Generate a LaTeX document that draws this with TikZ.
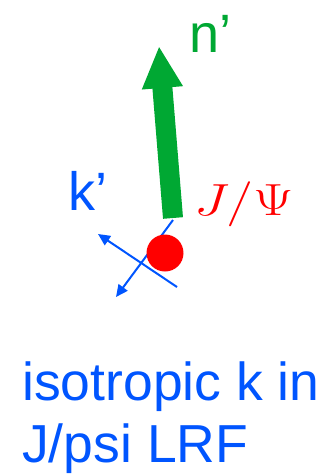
\RequirePackage{fix-cm}
\documentclass[tikz,border=0pt]{standalone}
\usepackage[no-math]{fontspec}
\newfontfamily\arial{Liberation Sans}
\usetikzlibrary{arrows.meta}
\definecolor{kblue}{RGB}{0,85,255}
\definecolor{ngreen}{RGB}{0,168,51}
\definecolor{jred}{RGB}{255,0,0}

\begin{document}
\begin{tikzpicture}[x=1pt,y=-1pt,kline/.style={draw=kblue,line width=2pt,-{Triangle[length=12pt,width=11pt]}},nvec/.style={draw=ngreen,line width=20pt,-{Triangle[length=42pt,width=38pt]}},lbl/.style={anchor=base west,inner sep=0pt,font=\arial\fontsize{54}{60}\selectfont}]
\useasboundingbox (0,0) rectangle (324,475);
\coordinate (kaend) at (177,287);
\coordinate (katip) at (98,234);
\coordinate (kbend) at (173,220);
\coordinate (kbtip) at (116,297);
\coordinate (nbase) at (173,218);
\coordinate (ntip) at (159,46);
\draw[kline] (kaend) -- (katip);
\draw[kline] (kbend) -- (kbtip);
\node[circle,fill=jred,minimum size=37pt,inner sep=0pt] (jpsi) at (165,253) {};
\draw[nvec] (nbase) -- (ntip);
\node[lbl,text=ngreen] (nlabel) at (189,52) {n’};
\node[lbl,text=kblue] (klabel) at (68,210) {k’};
\node[anchor=base west,inner sep=0pt,text=jred,font=\fontsize{45}{50}\selectfont] (jlabel) at (194,215) {\scalebox{1.23}[1]{$J/\Psi$}};
\node[lbl,text=kblue,font=\arial\fontsize{53.5}{60}\selectfont] (isoline) at (22,400) {isotropic k in};
\node[lbl,text=kblue,font=\arial\fontsize{53.5}{60}\selectfont] (lrfline) at (22,462) {J/psi LRF};
\end{tikzpicture}
\end{document}
